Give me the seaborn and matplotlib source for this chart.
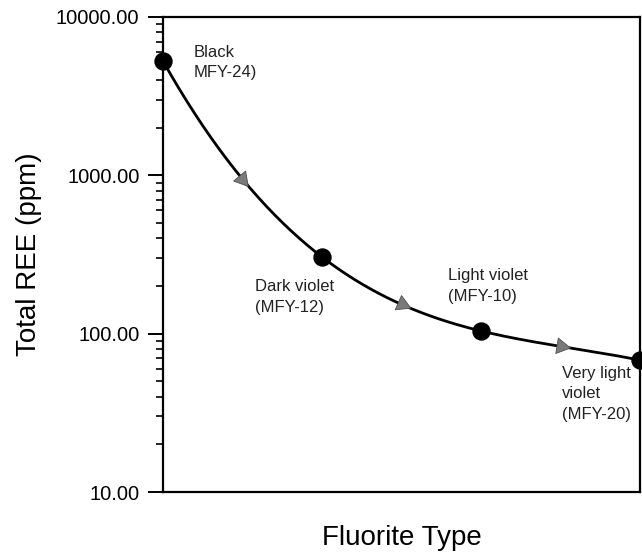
import numpy as np
import pandas as pd
import matplotlib
matplotlib.use("Agg")
import matplotlib.pyplot as plt
import matplotlib.ticker as mticker
import seaborn as sns

# Data
categories = ["Black\nMFY-24)", "Dark violet\n(MFY-12)", "Light violet\n(MFY-10)", "Very light\nviolet\n(MFY-20)"]
positions = [0, 1, 2, 3]
total_ree = [5270, 305, 104, 68]
y_ticks = [10, 100, 1000, 10000]

sns.set_theme(style="ticks")
plt.rcParams['font.family'] = ['Liberation Sans', 'DejaVu Sans']

fig = plt.figure(figsize=(6.42, 5.53), dpi=100)
ax = fig.add_axes([163/642, 61/553, 477/642, 475/553])

# Smooth curve through the points (cubic in log space)
coef = np.polyfit(positions, np.log10(total_ree), 3)
xs = np.linspace(positions[0], positions[-1], 300)
ys = 10 ** np.polyval(coef, xs)
curve = pd.DataFrame({"x": xs, "y": ys})
sns.lineplot(data=curve, x="x", y="y", ax=ax, color="black", linewidth=2, clip_on=False)

df = pd.DataFrame({"x": positions, "y": total_ree, "label": categories})
sns.scatterplot(data=df, x="x", y="y", ax=ax, color="black", s=150, edgecolor="black",
                zorder=5, clip_on=False)

ax.set_yscale("log")
ax.set_ylim(10, 10000)
ax.set_xlim(0, 3)
ax.set_yticks(y_ticks)
ax.yaxis.set_major_formatter(mticker.FuncFormatter(lambda v, p: f"{v:.2f}"))
ax.yaxis.set_minor_locator(mticker.LogLocator(base=10, subs=np.arange(2, 10)))
ax.yaxis.set_minor_formatter(mticker.NullFormatter())
ax.set_xticks([])
ax.tick_params(axis="y", which="major", length=11, width=1.4, direction="out",
               labelsize=14.5, pad=6, colors="black", labelcolor="black")
ax.tick_params(axis="y", which="minor", length=5, width=1.2, direction="out", colors="black")
for s in ax.spines.values():
    s.set_linewidth(1.6)
    s.set_color("black")

ax.set_xlabel("Fluorite Type", fontsize=20, labelpad=24, color="black")
ax.set_ylabel("Total REE (ppm)", fontsize=20, labelpad=10, color="black")

# Direction arrows (gray triangles) at midpoints of the curve
fig.canvas.draw()
for xm in [0.5, 1.5, 2.5]:
    y0 = 10 ** np.polyval(coef, xm)
    y1 = 10 ** np.polyval(coef, xm + 0.01)
    p0 = ax.transData.transform((xm, y0))
    p1 = ax.transData.transform((xm + 0.01, y1))
    ang = np.degrees(np.arctan2(p1[1] - p0[1], p1[0] - p0[0]))
    ax.plot([xm], [y0], marker=(3, 0, ang - 90), markersize=13, color="#7a7a7a",
            markeredgecolor="#505050", markeredgewidth=0.6, zorder=4)

# Labels
label_pos = [(0.19, 6650), (0.58, 221), (1.79, 259), (2.51, 62.4)]
for (lx, ly), txt in zip(label_pos, categories):
    ax.text(lx, ly, txt, fontsize=12, ha="left", va="top", color="#222222", linespacing=1.45)

fig.savefig("out.png", dpi=100)
